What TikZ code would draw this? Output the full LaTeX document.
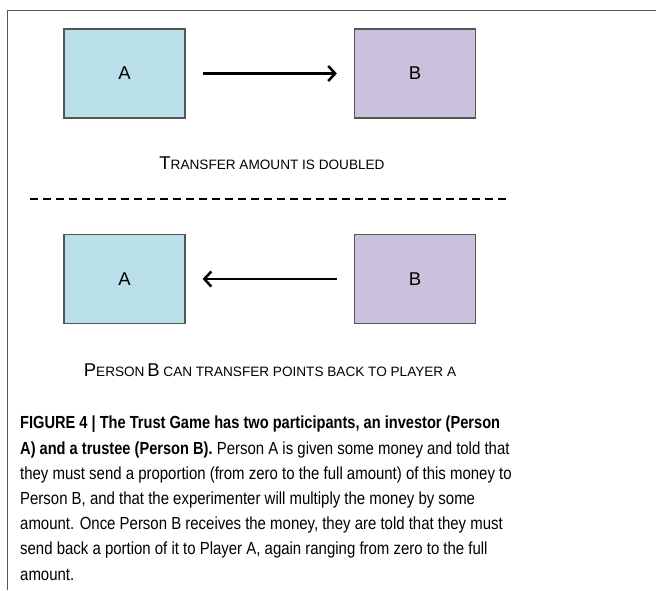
\documentclass[tikz,border=0pt]{standalone}
\usepackage{fontspec}
\setmainfont{Liberation Sans}
\newfontfamily\capfont[FakeStretch=0.855,BoldFeatures={FakeStretch=0.835}]{Liberation Sans}
\usetikzlibrary{arrows.meta,positioning}
\definecolor{boxa}{RGB}{185,223,232}
\definecolor{boxb}{RGB}{203,193,220}
\definecolor{edgegray}{RGB}{85,85,85}
\newcommand{\clrone}{boxa}
\newcommand{\clrtwo}{boxb}
\newcommand{\smallcap}[2]{{\fontsize{18.5}{19}\selectfont #1}{\fontsize{13.6}{15}\selectfont #2}}

\begin{document}
\begin{tikzpicture}[x=1pt,y=-1pt,
    player/.style={draw=edgegray, line width=1.2pt, minimum width=121pt, minimum height=89pt,
                   font=\fontsize{18.5}{18.5}\selectfont},
    move/.style={line width=2.5pt, -{Straight Barb[length=7pt,width=15pt]}, shorten <=17pt, shorten >=17pt},
    note/.style={inner sep=0pt}]

    \useasboundingbox (0,0) rectangle (656,590);
    \draw[edgegray, line width=1pt] (656,10.5) -- (7,10.5) -- (7,590);

    % A sends to B
    \node[player, fill=\clrone] (a1) at (124.5,73.5) {A};
    \node[player, fill=\clrtwo] (b1) at (415,73.5) {B};
    \draw[move] (a1) -- (b1);
    \node[note] (t1) at (272,163) {\smallcap{T}{RANSFER AMOUNT IS DOUBLED}};

    \draw[dash pattern=on 8pt off 5pt, line width=1.8pt] (30,199) -- (507,199);

    % B sends back to A
    \node[player, fill=\clrone] (a2) at (124.5,279) {A};
    \node[player, fill=\clrtwo] (b2) at (415,279) {B};
    \draw[move] (b2) -- (a2);
    \node[note] (t2) at (270,370) {\smallcap{P}{ERSON} \smallcap{B}{ CAN TRANSFER POINTS BACK TO PLAYER A}};

    % caption, placed by its last line
    \node[anchor=base west, align=left, inner sep=0pt,
          font=\capfont\fontsize{17.5}{25.2}\selectfont] (cap) at (20,580)
        {\textbf{FIGURE 4 | The Trust Game has two participants, an investor (Person}\\
         \textbf{A) and a trustee (Person B).} Person A is given some money and told that\\
         they must send a proportion (from zero to the full amount) of this money to\\
         Person B, and that the experimenter will multiply the money by some\\
         amount. Once Person B receives the money, they are told that they must\\
         send back a portion of it to Player A, again ranging from zero to the full\\
         amount.};

\end{tikzpicture}
\end{document}
